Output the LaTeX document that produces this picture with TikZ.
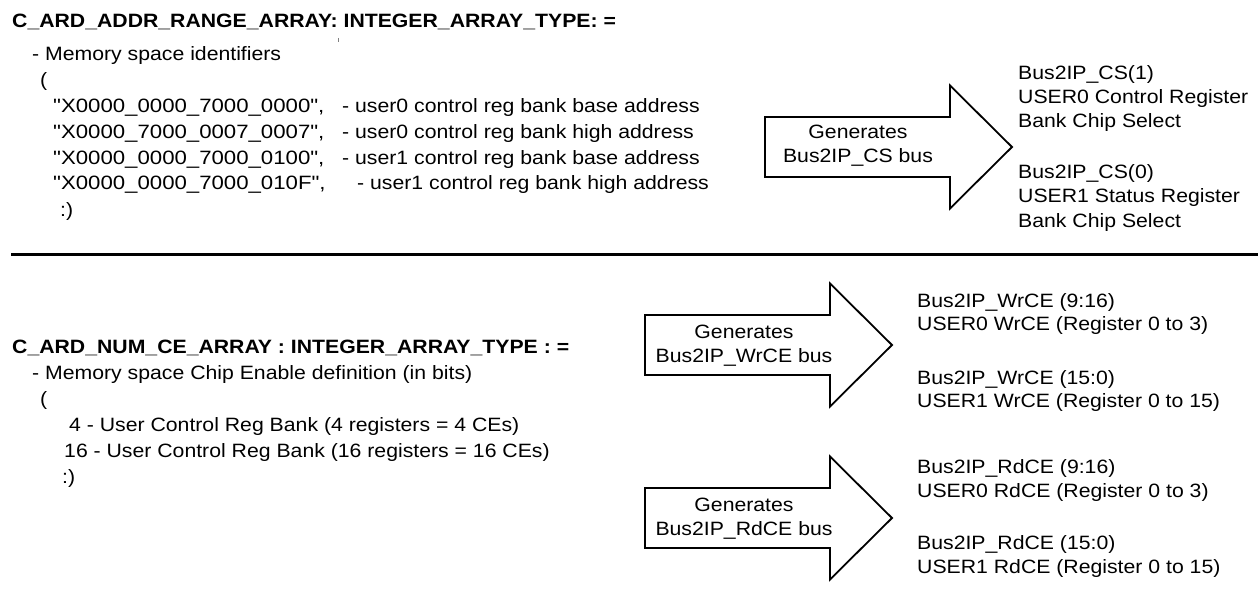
\documentclass[tikz,border=0pt]{standalone}
\usepackage{fontspec}
\setmainfont{Liberation Sans}[FakeStretch=1.1,Ligatures=TeXOff]
\begin{document}
\begin{tikzpicture}[x=1pt,y=-1pt,
  txt/.style={anchor=base west,inner sep=0pt,font=\fontsize{19.3}{24}\selectfont},
  qstr/.style={anchor=base west,inner sep=0pt,font=\fontsize{19.3}{24}\selectfont\addfontfeature{FakeStretch=1.15}},
  ttl/.style={anchor=base west,inner sep=0pt,font=\fontsize{19.3}{24}\selectfont\bfseries},
  gen/.style={align=center,inner sep=0pt,font=\fontsize{19.3}{24}\selectfont},
  bigarrow/.style={draw=black,fill=white,line width=1.8pt,line join=miter},
  rule/.style={line width=3pt}]
\useasboundingbox (0,0) rectangle (1258,604);
% ---- top block ----
\node[ttl] (t1) at (12,27.5) {C\_ARD\_ADDR\_RANGE\_ARRAY: INTEGER\_ARRAY\_TYPE: =};
\draw[gray,line width=0.8pt] (338,38) -- (338,42);
\node[txt] (m1) at (32,61) {- Memory space identifiers};
\node[txt] (p1) at (40,86.5) {(};
\node[qstr] (a1) at (53,112.5) {"X0000\_0000\_7000\_0000",};
\node[qstr] (a2) at (53,138.5) {"X0000\_7000\_0007\_0007",};
\node[qstr] (a3) at (53,164.5) {"X0000\_0000\_7000\_0100",};
\node[qstr] (a4) at (53,189.5) {"X0000\_0000\_7000\_010F",};
\node[txt] (c1) at (342,112.5) {- user0 control reg bank base address};
\node[txt] (c2) at (342,138.5) {- user0 control reg bank high address};
\node[txt] (c3) at (342,164.5) {- user1 control reg bank base address};
\node[txt] (c4) at (357,189.5) {- user1 control reg bank high address};
\node[txt] (e1) at (60,217) {:)};
% arrow 1
\draw[bigarrow] (765,117) -- (950,117) -- (950,85.5) -- (1012,147) -- (950,208.5) -- (950,177) -- (765,177) -- cycle;
\node[gen] (g1) at (858,146) {Generates\\Bus2IP\_CS bus};
\node[txt] (r1) at (1018,80) {Bus2IP\_CS(1)};
\node[txt] (r2) at (1018,104) {USER0 Control Register};
\node[txt] (r3) at (1018,128) {Bank Chip Select};
\node[txt] (r4) at (1018,179) {Bus2IP\_CS(0)};
\node[txt] (r5) at (1018,203) {USER1 Status Register};
\node[txt] (r6) at (1018,227) {Bank Chip Select};
% rule
\coordinate (ra) at (11,254);
\coordinate (rb) at (1258,254);
\draw[rule] (ra) -- (rb);
% ---- bottom block ----
\node[ttl] (t2) at (12,353.5) {C\_ARD\_NUM\_CE\_ARRAY : INTEGER\_ARRAY\_TYPE : =};
\node[txt] (m2) at (32,379.5) {- Memory space Chip Enable definition (in bits)};
\node[txt] (p2) at (40,405.5) {(};
\node[txt] (n1) at (69,431.5) {4 - User Control Reg Bank (4 registers = 4 CEs)};
\node[txt] (n2) at (64,457.5) {16 - User Control Reg Bank (16 registers = 16 CEs)};
\node[txt] (e2) at (62,483.5) {:)};
% arrow 2
\draw[bigarrow] (645,315) -- (830,315) -- (830,283.5) -- (892,345) -- (830,406.5) -- (830,375) -- (645,375) -- cycle;
\node[gen] (g2) at (744,346) {Generates\\Bus2IP\_WrCE bus};
\node[txt] (w1) at (917,307) {Bus2IP\_WrCE (9:16)};
\node[txt] (w2) at (917,330.5) {USER0 WrCE (Register 0 to 3)};
\node[txt] (w3) at (917,384) {Bus2IP\_WrCE (15:0)};
\node[txt] (w4) at (917,407.5) {USER1 WrCE (Register 0 to 15)};
% arrow 3
\draw[bigarrow] (645,488) -- (830,488) -- (830,456.5) -- (892,518) -- (830,579.5) -- (830,548) -- (645,548) -- cycle;
\node[gen] (g3) at (744,519) {Generates\\Bus2IP\_RdCE bus};
\node[txt] (d1) at (917,473.5) {Bus2IP\_RdCE (9:16)};
\node[txt] (d2) at (917,497.5) {USER0 RdCE (Register 0 to 3)};
\node[txt] (d3) at (917,549.5) {Bus2IP\_RdCE (15:0)};
\node[txt] (d4) at (917,573.5) {USER1 RdCE (Register 0 to 15)};
\end{tikzpicture}
\end{document}
